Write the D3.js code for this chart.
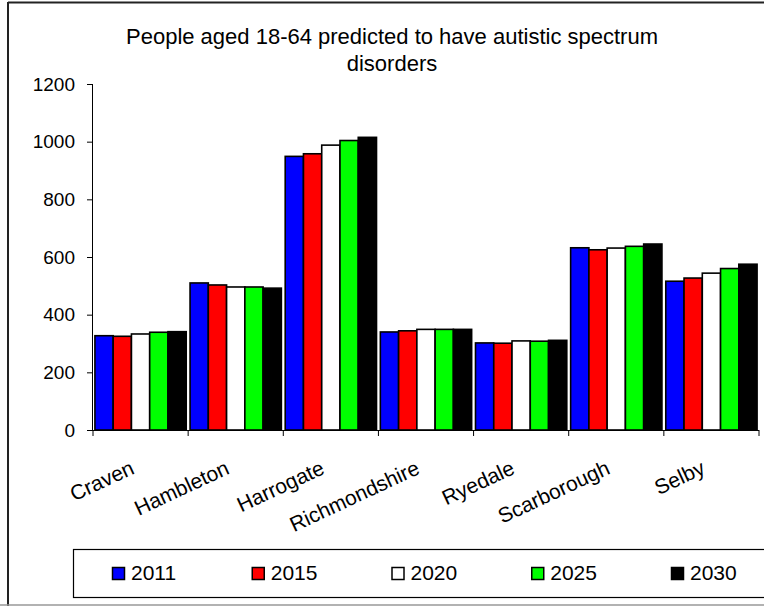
<!DOCTYPE html>
<html>
<head>
<meta charset="utf-8">
<script src="https://cdn.jsdelivr.net/npm/d3@7"></script>
<style>
  html, body { margin: 0; padding: 0; background: #fff; }
  svg { display: block; }
  text { font-family: "Liberation Sans", Arial, sans-serif; fill: #000; }
</style>
</head>
<body>
<svg id="chart" width="764" height="606"></svg>
<script>
const categories = ["Craven", "Hambleton", "Harrogate", "Richmondshire", "Ryedale", "Scarborough", "Selby"];
const seriesNames = ["2011", "2015", "2020", "2025", "2030"];
const seriesColors = ["#0000ff", "#ff0000", "#ffffff", "#00ff00", "#000000"];
const values2011 = [327, 510, 949, 340, 302, 632, 516];
const values2015 = [325, 503, 958, 344, 301, 625, 527];
const values2020 = [333, 496, 988, 349, 309, 631, 544];
const values2025 = [339, 496, 1004, 349, 308, 637, 560];
const values2030 = [341, 492, 1015, 349, 311, 645, 575];
const yTicks = [0, 200, 400, 600, 800, 1000, 1200];
const titleLines = ["People aged 18-64 predicted to have autistic spectrum", "disorders"];

const seriesValues = [values2011, values2015, values2020, values2025, values2030];

const svg = d3.select("#chart");

// outer frame
svg.append("line").attr("x1", 8).attr("x2", 764).attr("y1", 2.5).attr("y2", 2.5)
  .attr("stroke", "#222").attr("stroke-width", 2);
svg.append("line").attr("x1", 8).attr("x2", 8).attr("y1", 2).attr("y2", 606)
  .attr("stroke", "#222").attr("stroke-width", 2);
svg.append("line").attr("x1", 0).attr("x2", 764).attr("y1", 605).attr("y2", 605)
  .attr("stroke", "#999").attr("stroke-width", 1.5);

// title
svg.append("g").selectAll("text").data(titleLines).join("text")
  .attr("x", 392).attr("y", (d, i) => 44 + i * 27)
  .attr("text-anchor", "middle").attr("font-size", 22).text(d => d);

const plotLeft = 93, plotRight = 759, plotTop = 84, plotBottom = 430;
const x0 = d3.scaleBand().domain(categories).range([plotLeft, plotRight]).paddingInner(0).paddingOuter(0);
const x1 = d3.scaleBand().domain(seriesNames).range([0, x0.bandwidth()]).paddingOuter(0.105).paddingInner(0);
const y = d3.scaleLinear().domain([0, 1200]).range([plotBottom, plotTop]);

// bars
const g = svg.append("g");
categories.forEach((c, ci) => {
  g.append("g").attr("transform", `translate(${x0(c)},0)`)
    .selectAll("rect").data(seriesNames).join("rect")
    .attr("x", s => x1(s))
    .attr("width", x1.bandwidth())
    .attr("y", (s, si) => y(seriesValues[si][ci]))
    .attr("height", (s, si) => y(0) - y(seriesValues[si][ci]))
    .attr("fill", (s, si) => seriesColors[si])
    .attr("stroke", "#000").attr("stroke-width", 1.6);
});

// y axis
const yAxis = d3.axisLeft(y).tickValues(yTicks).tickSize(6).tickPadding(12).tickFormat(d3.format("d"));
const ya = svg.append("g").attr("transform", `translate(${plotLeft},0)`).call(yAxis);
ya.select(".domain").attr("stroke", "#000").attr("d", `M-0.5,${plotTop}V${plotBottom}`);
ya.selectAll(".tick line").attr("stroke", "#000");
ya.selectAll(".tick text").attr("font-size", 19).attr("font-family", '"Liberation Sans", Arial, sans-serif').attr("fill", "#000");

// x axis
const xa = svg.append("g").attr("transform", `translate(0,${plotBottom})`);
xa.append("line").attr("x1", plotLeft).attr("x2", plotRight).attr("y1", 0.5).attr("y2", 0.5).attr("stroke", "#000");
const tickPos = categories.map(c => x0(c)).concat([plotRight]);
xa.selectAll("line.tk").data(tickPos).join("line").attr("class", "tk")
  .attr("x1", d => d).attr("x2", d => d).attr("y1", 0).attr("y2", 6).attr("stroke", "#000");
xa.selectAll("text").data(categories).join("text")
  .attr("transform", c => `translate(${x0(c) + x0.bandwidth() / 2 - 5},${43}) rotate(-25)`)
  .attr("text-anchor", "end").attr("font-size", 21).text(c => c);

// legend
const lg = svg.append("g");
lg.append("rect").attr("x", 73.5).attr("y", 549.5).attr("width", 720).attr("height", 48)
  .attr("fill", "none").attr("stroke", "#000").attr("stroke-width", 1.2);
const legendX = d3.scalePoint().domain(seriesNames).range([112, 671]);
const items = lg.selectAll("g.item").data(seriesNames).join("g").attr("class", "item")
  .attr("transform", s => `translate(${legendX(s)},567)`);
items.append("rect").attr("x", 0.5).attr("y", 0.5).attr("width", 12).attr("height", 12)
  .attr("fill", (s, i) => seriesColors[i]).attr("stroke", "#000").attr("stroke-width", 1.5);
items.append("text").attr("x", 19).attr("y", 13).attr("font-size", 21).text(s => s);
</script>
</body>
</html>
